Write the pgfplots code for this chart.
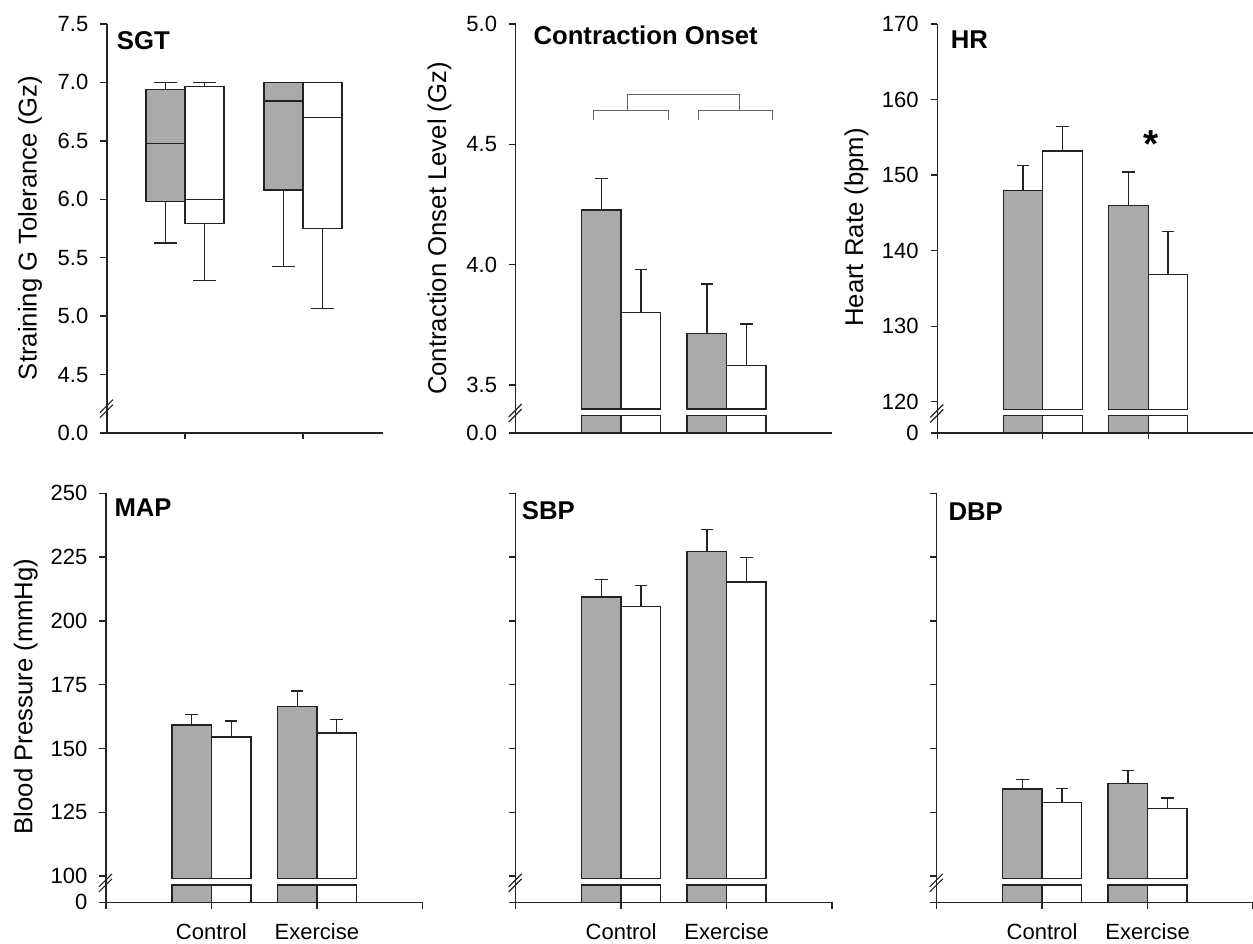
\documentclass[border=0pt]{standalone}
\usepackage{fontspec}
\setmainfont{Liberation Sans}
\usepackage{pgfplots}
\usepackage{pgfplotstable}
\pgfplotsset{compat=1.18}
\usepgfplotslibrary{statistics}
\definecolor{gfill}{RGB}{170,170,170}
\definecolor{edge}{RGB}{35,35,35}
\definecolor{axcol}{RGB}{35,35,35}
\definecolor{brkcol}{RGB}{100,100,100}

\pgfplotstableread{
x g ge w we
1 4.227 0.132 3.80 0.18
2 3.713 0.206 3.58 0.173
}\codata
\pgfplotstableread{
x g ge w we
1 148.0 3.3 153.2 3.2
2 146.0 4.4 136.85 5.65
}\hrdata
\pgfplotstableread{
x g ge w we
1 159.2 4.2 154.5 6.3
2 166.4 6.1 156.1 5.2
}\mapdata
\pgfplotstableread{
x g ge w we
1 209.4 6.9 205.7 8.2
2 227.1 8.7 215.2 9.6
}\sbpdata
\pgfplotstableread{
x g ge w we
1 134.1 3.6 128.8 5.6
2 136.2 5.2 126.4 4.2
}\dbpdata

\pgfplotsset{
  base/.style={scale only axis, anchor=south west, height=409pt,
    axis lines=left, axis line style={-, line width=1.3pt, draw=axcol},
    tick align=outside, major tick length=6.5pt,
    tick style={line width=1.3pt, draw=axcol},
    tick label style={font=\fontsize{22}{26}\selectfont},
    yticklabel style={anchor=east, inner sep=0pt, xshift=-12pt},
    xticklabel style={anchor=base, inner sep=0pt, yshift=-31pt},
    clip mode=individual, axis on top},
  over/.style={scale only axis, anchor=south west, height=409pt, hide axis, clip=false},
  gbar/.style={ybar, bar width=0.374, bar shift=0pt, fill=gfill, draw=edge, line width=1.3pt},
  wbar/.style={ybar, bar width=0.374, bar shift=0pt, fill=white, draw=edge, line width=1.3pt},
  errs/.style={error bars/.cd, y dir=plus, y explicit,
    error bar style={line width=1.3pt, draw=edge},
    error mark options={rotate=90, line width=1.3pt, draw=edge, mark size=6.3pt}},
  gbox/.style={fill=gfill, draw=edge, line width=1.3pt, solid},
  wbox/.style={fill=white, draw=edge, line width=1.3pt, solid},
}
\newcommand\brk[2]{%
  \draw[line width=1.2pt, draw=axcol] ([shift={(-7pt,-10pt)}]axis cs:#1,#2) -- ++(13pt,13pt);
  \draw[line width=1.2pt, draw=axcol] ([shift={(-7pt,-5pt)}]axis cs:#1,#2) -- ++(13pt,13pt);}
\newcommand\ylab[3]{\node[rotate=90, anchor=base, inner sep=0pt, font=\fontsize{25.7}{30}\selectfont] at (#1pt,#2pt) {#3};}
\newcommand\ttl[3]{\node[anchor=base west, inner sep=0pt, font=\bfseries\fontsize{25.7}{30}\selectfont] at (#1pt,#2pt) {#3};}

\begin{document}
\begin{tikzpicture}
\useasboundingbox (0,0) rectangle (1253pt,943pt);

% ---------------- SGT ----------------
\begin{axis}[base, at={(107pt,510pt)}, width=276pt,
  xmin=0.339, xmax=2.678, ymin=4.0, ymax=7.5,
  ytick={4.0,4.5,5.0,5.5,6.0,6.5,7.0,7.5},
  yticklabels={0.0,4.5,5.0,5.5,6.0,6.5,7.0,7.5},
  xtick={1,2}, xticklabels={},
  boxplot/draw direction=y]
\addplot[gbox, boxplot prepared={draw position=0.835, lower whisker=5.627, lower quartile=5.98, median=6.48, upper quartile=6.94, upper whisker=7.0, box extend=0.33, whisker extend=0.19}] coordinates {};
\addplot[wbox, boxplot prepared={draw position=1.165, lower whisker=5.305, lower quartile=5.79, median=6.0, upper quartile=6.963, upper whisker=7.0, box extend=0.33, whisker extend=0.19}] coordinates {};
\addplot[gbox, boxplot prepared={draw position=1.835, lower whisker=5.427, lower quartile=6.08, median=6.84, upper quartile=7.0, upper whisker=7.0, box extend=0.33, whisker extend=0.19}] coordinates {};
\addplot[wbox, boxplot prepared={draw position=2.165, lower whisker=5.066, lower quartile=5.75, median=6.70, upper quartile=7.0, upper whisker=7.0, box extend=0.33, whisker extend=0.19}] coordinates {};
\brk{0.339}{4.217}
\end{axis}

% ---------------- Contraction Onset ----------------
\begin{axis}[base, at={(515.7pt,510pt)}, width=316.3pt,
  xmin=0, xmax=3, ymin=3.3, ymax=5.0,
  ytick={3.3,3.5,4.0,4.5,5.0}, yticklabels={0.0,3.5,4.0,4.5,5.0},
  xtick=\empty]
\addplot[gbar] table[x expr=\thisrow{x}-0.187, y expr=3.372] {\codata};
\addplot[wbar] table[x expr=\thisrow{x}+0.187, y expr=3.372] {\codata};
\draw[brkcol, line width=1.2pt] (axis cs:0.736,4.601) |- (axis cs:1.447,4.640) -- (axis cs:1.447,4.601);
\draw[brkcol, line width=1.2pt] (axis cs:1.732,4.601) |- (axis cs:2.438,4.640) -- (axis cs:2.438,4.601);
\draw[brkcol, line width=1.2pt] (axis cs:1.062,4.640) |- (axis cs:2.121,4.706) -- (axis cs:2.121,4.640);
\brk{0}{3.387}
\end{axis}
\begin{axis}[over, at={(515.7pt,510pt)}, width=316.3pt,
  xmin=0, xmax=3, ymin=3.3, ymax=5.0,
  y coord trafo/.code={\pgfmathparse{#1-3.40}},
  y coord inv trafo/.code={\pgfmathparse{#1+3.40}}]
\addplot[gbar, errs] table[x expr=\thisrow{x}-0.187, y=g, y error=ge] {\codata};
\addplot[wbar, errs] table[x expr=\thisrow{x}+0.187, y=w, y error=we] {\codata};
\end{axis}

% ---------------- HR ----------------
\begin{axis}[base, at={(937.3pt,510pt)}, width=316.3pt,
  xmin=0, xmax=3, ymin=115.86, ymax=170,
  ytick={115.86,120,130,140,150,160,170}, yticklabels={0,120,130,140,150,160,170},
  xtick={0,1,2}, xticklabels={}]
\addplot[gbar] table[x expr=\thisrow{x}-0.187, y expr=118.15] {\hrdata};
\addplot[wbar] table[x expr=\thisrow{x}+0.187, y expr=118.15] {\hrdata};
\node[anchor=base, inner sep=0pt, font=\bfseries\fontsize{39}{40}\selectfont] at (axis cs:2.032,152.3) {*};
\brk{0}{118.57}
\end{axis}
\begin{axis}[over, at={(937.3pt,510pt)}, width=316.3pt,
  xmin=0, xmax=3, ymin=115.86, ymax=170,
  y coord trafo/.code={\pgfmathparse{#1-119.0}},
  y coord inv trafo/.code={\pgfmathparse{#1+119.0}}]
\addplot[gbar, errs] table[x expr=\thisrow{x}-0.187, y=g, y error=ge] {\hrdata};
\addplot[wbar, errs] table[x expr=\thisrow{x}+0.187, y=w, y error=we] {\hrdata};
\end{axis}

% ---------------- MAP ----------------
\begin{axis}[base, at={(106pt,40.7pt)}, width=316.3pt,
  xmin=0, xmax=3, ymin=89.7, ymax=250,
  ytick={89.7,100,125,150,175,200,225,250}, yticklabels={0,100,125,150,175,200,225,250},
  xtick={0,1,2,3}, xticklabels={,Control,Exercise,}]
\addplot[gbar] table[x expr=\thisrow{x}-0.187, y expr=96.5] {\mapdata};
\addplot[wbar] table[x expr=\thisrow{x}+0.187, y expr=96.5] {\mapdata};
\brk{0}{97.7}
\end{axis}
\begin{axis}[over, at={(106pt,40.7pt)}, width=316.3pt,
  xmin=0, xmax=3, ymin=89.7, ymax=250,
  y coord trafo/.code={\pgfmathparse{#1-98.9}},
  y coord inv trafo/.code={\pgfmathparse{#1+98.9}}]
\addplot[gbar, errs] table[x expr=\thisrow{x}-0.187, y=g, y error=ge] {\mapdata};
\addplot[wbar, errs] table[x expr=\thisrow{x}+0.187, y=w, y error=we] {\mapdata};
\end{axis}

% ---------------- SBP ----------------
\begin{axis}[base, at={(515.7pt,40.7pt)}, width=316.3pt,
  xmin=0, xmax=3, ymin=89.7, ymax=250,
  ytick={89.7,100,125,150,175,200,225,250}, yticklabels={},
  xtick={0,1,2,3}, xticklabels={,Control,Exercise,}]
\addplot[gbar] table[x expr=\thisrow{x}-0.187, y expr=96.5] {\sbpdata};
\addplot[wbar] table[x expr=\thisrow{x}+0.187, y expr=96.5] {\sbpdata};
\brk{0}{97.7}
\end{axis}
\begin{axis}[over, at={(515.7pt,40.7pt)}, width=316.3pt,
  xmin=0, xmax=3, ymin=89.7, ymax=250,
  y coord trafo/.code={\pgfmathparse{#1-98.9}},
  y coord inv trafo/.code={\pgfmathparse{#1+98.9}}]
\addplot[gbar, errs] table[x expr=\thisrow{x}-0.187, y=g, y error=ge] {\sbpdata};
\addplot[wbar, errs] table[x expr=\thisrow{x}+0.187, y=w, y error=we] {\sbpdata};
\end{axis}

% ---------------- DBP ----------------
\begin{axis}[base, at={(936.7pt,40.7pt)}, width=316.3pt,
  xmin=0, xmax=3, ymin=89.7, ymax=250,
  ytick={89.7,100,125,150,175,200,225,250}, yticklabels={},
  xtick={0,1,2,3}, xticklabels={,Control,Exercise,}]
\addplot[gbar] table[x expr=\thisrow{x}-0.187, y expr=96.5] {\dbpdata};
\addplot[wbar] table[x expr=\thisrow{x}+0.187, y expr=96.5] {\dbpdata};
\brk{0}{97.7}
\end{axis}
\begin{axis}[over, at={(936.7pt,40.7pt)}, width=316.3pt,
  xmin=0, xmax=3, ymin=89.7, ymax=250,
  y coord trafo/.code={\pgfmathparse{#1-98.9}},
  y coord inv trafo/.code={\pgfmathparse{#1+98.9}}]
\addplot[gbar, errs] table[x expr=\thisrow{x}-0.187, y=g, y error=ge] {\dbpdata};
\addplot[wbar, errs] table[x expr=\thisrow{x}+0.187, y=w, y error=we] {\dbpdata};
\end{axis}

% ---------------- labels and titles ----------------
\ylab{36.7}{715}{Straining G Tolerance (Gz)}
\ylab{446}{714.5}{Contraction Onset Level (Gz)}
\ylab{863}{715.5}{Heart Rate (bpm)}
\ylab{32.3}{246.5}{Blood Pressure (mmHg)}
\ttl{116.7}{893}{SGT}
\ttl{533.3}{898}{Contraction Onset}
\ttl{950.7}{894.7}{HR}
\ttl{114.3}{426.3}{MAP}
\ttl{521.7}{423.7}{SBP}
\ttl{948.3}{422.3}{DBP}
\end{tikzpicture}
\end{document}
